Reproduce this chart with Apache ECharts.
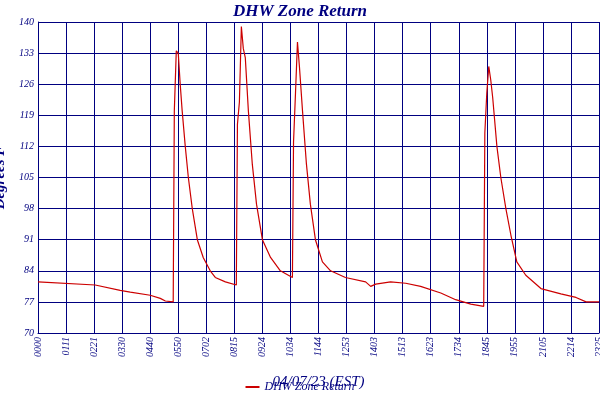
<!DOCTYPE html>
<html><head><meta charset="utf-8">
<script src="https://cdn.jsdelivr.net/npm/echarts@6/dist/echarts.min.js"></script>
<style>body{margin:0}#c{width:600px;height:400px}</style></head>
<body><div id="c"></div>
<script>
const tickLabels=["00:00","01:11","02:21","03:30","04:40","05:50","07:02","08:15","09:24","10:34","11:44","12:53","14:03","15:13","16:23","17:34","18:45","19:55","21:05","22:14","23:25"];
const xs=[0,2.04,2.93,3.29,4.0,4.36,4.54,4.82,4.86,4.93,5.0,5.07,5.14,5.25,5.36,5.5,5.68,5.89,6.14,6.32,6.68,7.07,7.11,7.18,7.25,7.32,7.39,7.5,7.64,7.79,8.0,8.29,8.64,9.07,9.11,9.18,9.25,9.32,9.43,9.57,9.71,9.89,10.14,10.43,10.96,11.68,11.86,12.04,12.57,13.11,13.64,14.36,14.89,15.43,15.89,15.93,16.0,16.07,16.14,16.21,16.36,16.5,16.68,16.86,17.07,17.39,17.93,18.64,19.18,19.54,20];
const ys=[81.5,80.8,79.6,79.2,78.5,77.8,77.2,77.0,120,133.5,133,126,120,112,105,98,91,87,84,82.5,81.5,80.8,117,122,139,134,132,120,108,99,91,87,84,82.5,113,124,135.5,130,120,108,99,91,86,84,82.5,81.5,80.5,81,81.5,81.2,80.5,79,77.5,76.5,76,115,124,130,127,123,112,105,98,92,86,83,80,78.8,78,77,77];
const navy='#000080',f='Liberation Serif';
const data=xs.map((x,i)=>[x,ys[i]]);
echarts.init(document.getElementById('c')).setOption({
animation:false,backgroundColor:'#fff',
title:{text:'DHW Zone Return',left:'center',top:-2,textStyle:{color:navy,fontFamily:f,fontStyle:'italic',fontWeight:'bold',fontSize:17}},
grid:{left:38,right:1,top:22,bottom:67,outerBoundsMode:'none',containLabel:false},
legend:{bottom:2,left:'center',itemWidth:14,itemHeight:2,icon:'rect',textStyle:{color:navy,fontFamily:f,fontStyle:'italic',fontSize:12}},
xAxis:{type:'value',min:0,max:20,interval:1,
 axisLine:{lineStyle:{color:navy}},axisTick:{show:false},
 splitLine:{lineStyle:{color:navy,width:1}},
 axisLabel:{rotate:90,color:navy,fontFamily:f,fontStyle:'italic',fontSize:10,margin:4,hideOverlap:false,formatter:v=>tickLabels[Math.round(v)].replace(':','')},
 name:'04/07/23 (EST)',nameLocation:'middle',nameGap:42,nameTextStyle:{color:navy,fontFamily:f,fontStyle:'italic',fontSize:15}},
yAxis:{type:'value',min:70,max:140,interval:7,
 axisLine:{show:true,lineStyle:{color:navy}},axisTick:{show:false},
 splitLine:{lineStyle:{color:navy,width:1}},
 axisLabel:{color:navy,fontFamily:f,fontStyle:'italic',fontSize:10,margin:4},
 name:'Degrees F',nameLocation:'middle',nameGap:22,nameTextStyle:{color:navy,fontFamily:f,fontStyle:'italic',fontWeight:'bold',fontSize:15}},
series:[{name:'DHW Zone Return',type:'line',data:data,showSymbol:false,lineStyle:{color:'#cc0000',width:1.2},itemStyle:{color:'#cc0000'}}]
});
</script></body></html>
